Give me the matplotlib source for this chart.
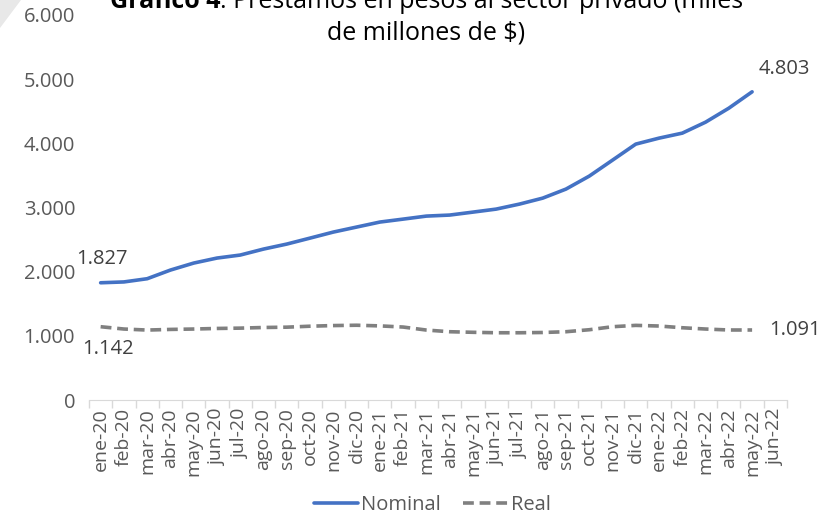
import matplotlib.pyplot as plt
from matplotlib.patches import Polygon
from matplotlib.ticker import FuncFormatter, FixedLocator

months = ["ene-20", "feb-20", "mar-20", "abr-20", "may-20", "jun-20", "jul-20", "ago-20",
          "sep-20", "oct-20", "nov-20", "dic-20", "ene-21", "feb-21", "mar-21", "abr-21",
          "may-21", "jun-21", "jul-21", "ago-21", "sep-21", "oct-21", "nov-21", "dic-21",
          "ene-22", "feb-22", "mar-22", "abr-22", "may-22", "jun-22"]

# miles de millones de $ (jun-22 sin dato)
nominal = [1827, 1840, 1890, 2025, 2134, 2212, 2259, 2352, 2430, 2523, 2617, 2695,
           2773, 2819, 2866, 2882, 2928, 2975, 3053, 3146, 3287, 3489, 3738, 3988,
           4081, 4159, 4330, 4548, 4803]
real = [1142, 1106, 1090, 1100, 1106, 1115, 1120, 1130, 1135, 1150, 1160, 1165,
        1155, 1137, 1090, 1064, 1055, 1048, 1048, 1052, 1064, 1095, 1142, 1163,
        1153, 1126, 1106, 1091, 1091]

FONT = ["Open Sans", "DejaVu Sans"]
plt.rcParams['font.family'] = FONT
FS = 14.5

fig = plt.figure(figsize=(8.36, 5.17), dpi=100)
ax = fig.add_axes([89 / 836, 1 - 400 / 517, 698 / 836, 385 / 517])

x = list(range(len(nominal)))
ax.plot(x, nominal, color="#4472C4", lw=2.6, solid_capstyle="round", label="Nominal")
ax.plot(list(range(len(real))), real, color="#808080", lw=2.6, ls=(0, (3, 1.6)),
        label="Real")

ax.set_xlim(-0.5, len(months) - 0.5)
ax.set_ylim(0, 6000)
ax.set_yticks(range(0, 6001, 1000))
ax.yaxis.set_major_formatter(FuncFormatter(lambda v, p: f"{int(v):,}".replace(",", ".")))

ax.set_xticks(range(len(months)))
ax.set_xticklabels(months, rotation=90, fontsize=14, color="#595959")
ax.xaxis.set_minor_locator(FixedLocator([i - 0.5 for i in range(len(months) + 1)]))
ax.tick_params(axis="x", which="major", length=0, pad=6)
ax.tick_params(axis="x", which="minor", length=6, color="#D9D9D9", width=1)
ax.tick_params(axis="y", length=0, labelsize=FS, labelcolor="#595959", pad=10)

for s in ["top", "right", "left"]:
    ax.spines[s].set_visible(False)
ax.spines["bottom"].set_color("#D9D9D9")

# etiquetas de datos
lab = dict(fontsize=FS, color="#404040")
ax.annotate("1.827", (0, nominal[0]), xytext=(1, 10), textcoords="offset points",
            ha="center", va="bottom", **lab)
ax.annotate("4.803", (len(nominal) - 1, nominal[-1]), xytext=(5, 9),
            textcoords="offset points", ha="left", va="bottom", **lab)
ax.annotate("1.142", (0, real[0]), xytext=(5, -9), textcoords="offset points",
            ha="center", va="top", **lab)
ax.annotate("1.091", (len(real) - 1, real[-1]), xytext=(12, 0),
            textcoords="offset points", ha="left", va="center", **lab)

# titulo (cortado arriba como en el original)
cx = 0.510
t1 = fig.text(cx, 1 - 8 / 517, "Gráfico 4", fontsize=18, fontweight="bold", ha="right",
              va="baseline", color="black")
t2 = fig.text(cx, 1 - 8 / 517, ": Préstamos en pesos al sector privado (miles",
              fontsize=18, ha="left", va="baseline", color="black")
fig.canvas.draw()
r = fig.canvas.get_renderer()
w1 = t1.get_window_extent(r).width / fig.bbox.width
w2 = t2.get_window_extent(r).width / fig.bbox.width
t1.set_x(cx - (w1 + w2) / 2 + w1)
t2.set_x(cx - (w1 + w2) / 2 + w1)
fig.text(cx, 1 - 40 / 517, "de millones de $)", fontsize=18, ha="center",
         va="baseline", color="black")

fig.patches.append(Polygon([(0, 1), (21 / 836, 1), (0, 1 - 28 / 517)], closed=True,
                           transform=fig.transFigure, facecolor="#E8E8E8",
                           edgecolor="none"))

fig.legend(loc="center", bbox_to_anchor=(0.517, 1 - 505 / 517), ncol=2, frameon=False,
           fontsize=FS, labelcolor="#595959", handlelength=2.2, columnspacing=1.1,
           handletextpad=0.15)

fig.savefig("out.png", dpi=100)
